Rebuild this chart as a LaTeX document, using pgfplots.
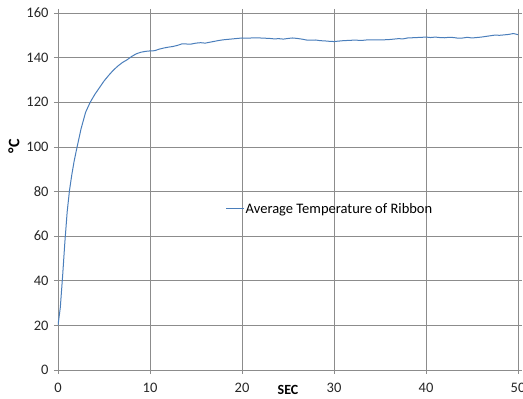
\documentclass[border=0pt]{standalone}
\usepackage{fontspec}
\setmainfont{Carlito}
\usepackage{pgfplots}
\pgfplotsset{compat=1.18}
\definecolor{excelblue}{RGB}{74,126,187}
\definecolor{gridgray}{RGB}{140,140,140}
\begin{document}
\begin{tikzpicture}
\begin{axis}[
  scale only axis,
  width=460pt, height=357pt,
  xmin=0, xmax=50, ymin=0, ymax=160,
  xtick={0,10,...,50}, ytick={0,20,...,160},
  grid=major,
  grid style={gridgray, line width=0.6pt},
  axis line style={gridgray, line width=0.6pt},
  tick style={gridgray, line width=0.6pt},
  tick align=outside, major tick length=4pt,
  /pgf/number format/assume math mode=true,
  ticklabel style={font=\fontsize{14.5}{16}\selectfont, text=black!85},
  xticklabel style={yshift=-6pt},
  yticklabel style={xshift=-2pt},
  xlabel={\textbf{SEC}},
  xlabel style={at={(axis description cs:0.5,0)}, anchor=center, yshift=-20pt, font=\fontsize{14}{15}\selectfont},
  ylabel={\textbf{°C}},
  ylabel style={at={(axis description cs:0,0.627)}, anchor=center, yshift=44pt, font=\fontsize{16}{18}\selectfont},
  legend style={at={(axis description cs:0.364,0.451)}, anchor=west, draw=none, fill=none,
    font=\fontsize{14.5}{16}\selectfont, inner sep=0pt, nodes={inner xsep=1.5pt}},
  legend cell align=left,
  legend image code/.code={\draw[#1] (0pt,0pt) -- (17.6pt,0pt);},
]
\addplot[excelblue, line width=1pt] coordinates {
(0,20) (0.25,28) (0.5,42) (0.75,57.5) (1.0,71) (1.25,80.5) (1.5,87.5) (1.75,93.5)
(2.0,98.5) (2.5,108) (3.0,115.5) (3.5,120) (4.0,123.5) (4.5,126.5) (5.0,129.5)
(5.5,132) (6.0,134.3) (6.5,136.2) (7.0,137.8) (7.5,139) (8.0,140.5) (8.5,141.7)
(9.0,142.4) (9.5,142.8) (10,143) (10.5,143.1) (11,143.8) (11.5,144.3) (12,144.7)
(12.5,145) (13,145.5) (13.5,146.2) (14,146.1) (14.5,146.1) (15,146.5) (15.5,146.7)
(16,146.5) (16.5,146.9) (17,147.3) (17.5,147.7) (18,148) (18.5,148.2) (19,148.4)
(19.5,148.6) (20,148.8) (20.5,148.7) (21,148.8) (21.5,148.9) (22,148.8) (22.5,148.7)
(23,148.6) (23.5,148.4) (24,148.5) (24.5,148.3) (25,148.6) (25.5,148.8) (26,148.6)
(26.5,148.3) (27,147.9) (27.5,147.8) (28,147.9) (28.5,147.6) (29,147.5) (29.5,147.3)
(30,147.2) (30.5,147.4) (31,147.6) (31.5,147.7) (32,147.8) (32.5,147.8) (33,147.7)
(33.5,147.9) (34,148) (34.5,148) (35,148) (35.5,148) (36,148.1) (36.5,148.3)
(37,148.5) (37.5,148.4) (38,148.8) (38.5,148.9) (39,149) (39.5,149.1) (40,149.2)
(40.5,149) (41,149.2) (41.5,149) (42,148.9) (42.5,149.1) (43,149) (43.5,148.7)
(44,148.8) (44.5,149.1) (45,148.8) (45.5,149) (46,149.2) (46.5,149.5) (47,149.8)
(47.5,150.1) (48,150) (48.5,150.2) (49,150.4) (49.5,150.8) (50,150.3)
};
\addlegendentry{Average Temperature of Ribbon}
\end{axis}
\pgfresetboundingbox
\path[use as bounding box] ([xshift=-58pt,yshift=-29pt]current axis.south west) rectangle ([xshift=5pt,yshift=13pt]current axis.north east);
\end{tikzpicture}
\end{document}
